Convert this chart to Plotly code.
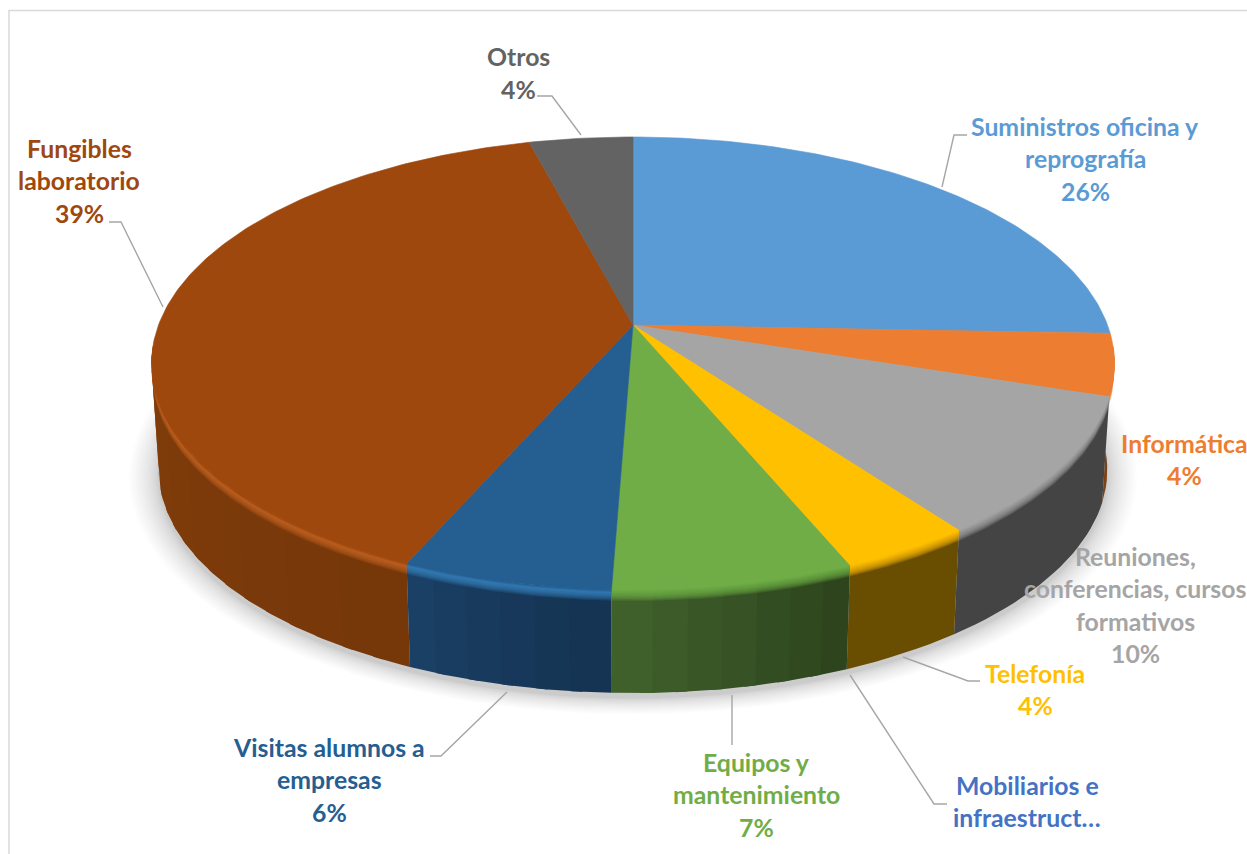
import numpy as np
import plotly.graph_objects as go

# ---- data (share of spending; labels show rounded %)
categories = ["Suministros oficina y reprografía", "Informática",
              "Reuniones, conferencias, cursos formativos", "Telefonía",
              "Mobiliarios e infraestruct…", "Equipos y mantenimiento",
              "Visitas alumnos a empresas", "Fungibles laboratorio", "Otros"]
values = [25.6, 4.4, 9.9, 3.8, 0.0, 6.9, 6.0, 39.3, 4.1]
percent_labels = [26, 4, 10, 4, None, 7, 6, 39, 4]
label_lines = [["Suministros oficina y", "reprografía"], ["Informática"],
               ["Reuniones,", "conferencias, cursos", "formativos"], ["Telefonía"],
               ["Mobiliarios e", "infraestruct…"], ["Equipos y", "mantenimiento"],
               ["Visitas alumnos a", "empresas"], ["Fungibles", "laboratorio"], ["Otros"]]

# ---- styles
top_colors = [(91,155,213), (237,125,49), (165,165,165), (255,192,0), (68,114,196),
              (112,173,71), (37,94,145), (158,72,14), (99,99,99)]
rim_colors = [(91,155,213), (237,125,49), (165,165,165), (255,192,0), (68,114,196),
              (112,173,71), (56,128,190), (196,98,36), (99,99,99)]
wall_start = [(40,70,100), (122,66,24), (68,68,68), (105,77,0), (30,50,90),
              (44,66,28), (20,50,80), (118,55,9), (50,50,50)]
wall_end = [(40,70,100), (122,66,24), (68,68,68), (105,77,0), (30,50,90),
            (65,98,44), (27,65,103), (146,70,14), (50,50,50)]
label_x = [1085, 1184, 1135.5, 1035, 1027, 756, 329, 79, 518]
label_y = [126, 443, 556, 673, 785, 762, 747, 148, 56.5]
LINE_H = 32.5
FONT = "Lato"
FONT_SIZE = 24.8
leaders = [[(942,187),(954,135),(967,135)], None, None,
           [(903,657),(968,681),(980,681)], [(850,675),(934,804),(947,804)],
           [(732,695),(732,745)], [(507,692),(441,756),(430,756)],
           [(163,307),(121,222),(109,222)], [(581,135),(552,96),(537,96)]]

# ---- projection of the pie disc, with perspective
CX, CY, A, B, K = 633.0, 325.0, 474.5, 220.0, 0.17
CY_BOTTOM, S_BOTTOM = 432.0, 0.985


def project(theta_deg, r=1.0, cy=CY, s=1.0):
    th = np.radians(theta_deg)
    X, Y = r * np.sin(th), r * np.cos(th)
    w = 1 + K * Y
    return CX + s * A * X / w, cy - s * B * Y / w


def rgb(c, a=None):
    c = [int(round(v)) for v in c]
    return f"rgb({c[0]},{c[1]},{c[2]})" if a is None else f"rgba({c[0]},{c[1]},{c[2]},{a})"


def mix(a, b, t):
    return tuple(a[i] + (b[i] - a[i]) * t for i in range(3))


fig = go.Figure()


def poly(x, y, color, lw=0.6):
    fig.add_trace(go.Scatter(x=list(x), y=list(y), mode="lines", fill="toself",
                             fillcolor=color, line=dict(color=color, width=lw),
                             hoverinfo="skip", showlegend=False))


edges = np.concatenate([[0], np.cumsum(values)]) * 3.6

# soft shadow under the disc
th_all = np.linspace(0, 360, 241)
for f in np.linspace(1, 0.05, 26):
    d = 30 * f ** 1.6
    x, y = project(th_all, 1.0, CY_BOTTOM + 5, S_BOTTOM * (1 + d / 480))
    poly(x, y, "rgba(100,100,115,0.013)", lw=0)

# side wall: front-facing segments, far ones first
STEP = 4.0
segments = []
for i in range(len(values)):
    a0, a1 = max(edges[i], 95.0), min(edges[i + 1], 265.0)
    if a1 <= a0:
        continue
    flat = wall_start[i] == wall_end[i]
    n = 1 if flat else max(1, int(np.ceil((a1 - a0) / STEP)))
    cuts = np.linspace(a0, a1, n + 1)
    for j in range(n):
        segments.append((i, cuts[j], cuts[j + 1], a0, a1))
segments.sort(key=lambda s: -abs((s[1] + s[2]) / 2 - 180))

for i, t0, t1, a0, a1 in segments:
    # widen slightly inside the slice so neighbouring pieces overlap without seams
    th = np.linspace(max(t0 - 0.6, a0), min(t1 + 0.6, a1), max(5, int((t1 - t0) / 1.5)))
    span = edges[i + 1] - edges[i]
    wall = mix(wall_start[i], wall_end[i], (((t0 + t1) / 2) - edges[i]) / span)
    xt, yt = project(th)
    xb, yb = project(th, 1.0, CY_BOTTOM, S_BOTTOM)
    poly(np.r_[xt, xb[::-1]], np.r_[yt, yb[::-1]], rgb(wall), lw=0)

# rounded rim: nested translucent bands, widest first, blending over the wall
RIM_FADE = [.105, .095, .085, .075, .065, .056, .047, .039, .032, .026]
TOP_FADE = [.02, .014, .008, .003]
for i in range(len(values)):
    a0, a1 = max(edges[i], 95.0), min(edges[i + 1], 265.0)
    if a1 <= a0:
        continue
    th = np.linspace(a0, a1, max(8, int((a1 - a0) * 1.5)))
    xt, yt = project(th)
    xb, yb = project(th, 1.0, CY_BOTTOM, S_BOTTOM)
    for u in RIM_FADE:
        xc, yc = xt + (xb - xt) * u, yt + (yb - yt) * u
        poly(np.r_[xt, xc[::-1]], np.r_[yt, yc[::-1]], rgb(rim_colors[i], 0.2), lw=0)
    for u in TOP_FADE:
        xc, yc = xt + (xb - xt) * u, yt + (yb - yt) * u
        poly(np.r_[xt, xc[::-1]], np.r_[yt, yc[::-1]], rgb(top_colors[i], 0.35), lw=0)

# top face
for i in range(len(values)):
    if values[i] <= 0:
        continue
    th = np.linspace(edges[i], edges[i + 1], max(4, int(values[i] * 4)))
    x, y = project(th)
    poly(np.r_[CX, x, CX], np.r_[CY, y, CY], rgb(top_colors[i]))

# leader lines
for pts in leaders:
    if pts is None:
        continue
    fig.add_trace(go.Scatter(x=[p[0] for p in pts], y=[p[1] for p in pts], mode="lines",
                             line=dict(color="#A6A6A6", width=1.4),
                             hoverinfo="skip", showlegend=False))

# labels
annotations = []
for i, lines in enumerate(label_lines):
    text_lines = list(lines)
    if percent_labels[i] is not None:
        text_lines.append(f"{percent_labels[i]}%")
    for n, line in enumerate(text_lines):
        annotations.append(dict(x=label_x[i], y=label_y[i] + n * LINE_H, text=f"<b>{line}</b>",
                                xref="x", yref="y", showarrow=False,
                                xanchor="center", yanchor="middle",
                                font=dict(family=FONT, size=FONT_SIZE, color=rgb(top_colors[i]))))

fig.update_layout(
    width=1247, height=854, autosize=False,
    margin=dict(l=0, r=0, t=0, b=0),
    paper_bgcolor="white", plot_bgcolor="white",
    showlegend=False,
    xaxis=dict(range=[0, 1247], visible=False, fixedrange=True),
    yaxis=dict(range=[854, 0], visible=False, fixedrange=True),
    annotations=annotations,
    shapes=[dict(type="rect", x0=9, y0=10.5, x1=1300, y1=900, xref="x", yref="y",
                 line=dict(color="#D9D9D9", width=1.5), layer="below")],
)
fig.write_html("out.html", config={"displayModeBar": False},
               post_script="document.body.style.margin='0';document.body.style.overflow='hidden';")
